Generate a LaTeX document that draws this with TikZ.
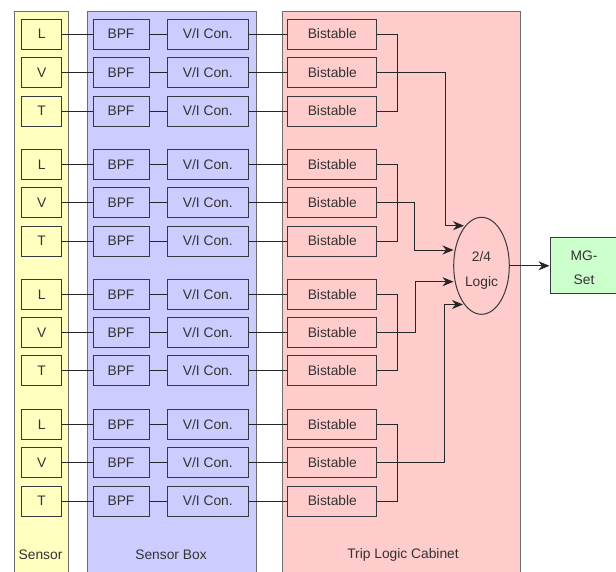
\documentclass[tikz,border=0pt]{standalone}
\usepackage{fontspec}
\setmainfont{Liberation Sans}
\usetikzlibrary{arrows.meta,shapes.geometric}
\definecolor{ylw}{HTML}{FFFFC0}
\definecolor{blu}{HTML}{CCCCFF}
\definecolor{pnk}{HTML}{FFCCCC}
\definecolor{grn}{HTML}{CCFFCC}
\definecolor{bord}{HTML}{36393D}
\definecolor{txt}{HTML}{333333}
\definecolor{cont}{HTML}{6E6E6E}
\begin{document}
\begin{tikzpicture}[x=1pt,y=-1pt,
  lbl/.style={text=txt,font=\fontsize{13.8}{15}\selectfont,inner sep=0pt},
  box/.style={lbl,draw=bord,line width=1pt,minimum height=30pt},
  sbox/.style={box,fill=ylw,minimum width=40pt},
  bpfbox/.style={box,fill=blu,minimum width=56pt},
  vibox/.style={box,fill=blu,minimum width=81pt},
  bisbox/.style={box,fill=pnk,minimum width=89pt},
  contbox/.style={draw=cont,line width=1pt,anchor=north west,minimum height=575pt,inner sep=0pt},
  wire/.style={draw=black!85,line width=1pt},
  arr/.style={wire,-{Stealth[length=11pt,width=9pt,inset=3.5pt]}}
]
\useasboundingbox (0,0) rectangle (616,571);
% containers
\node[contbox,fill=ylw,minimum width=54pt] (sensor) at (13.5,10.5) {};
\node[contbox,fill=blu,minimum width=169.5pt] (sbx) at (86.5,10.5) {};
\node[contbox,fill=pnk,minimum width=237.5pt] (tlc) at (282,10.5) {};
\node[lbl] (sensorlbl) at (40.5,555) {Sensor};
\node[lbl] (sbxlbl) at (171,555) {Sensor Box};
\node[lbl] (tlclbl) at (403,555) {Trip Logic Cabinet};
% rows
\foreach \y/\lab [count=\i] in {34/L,72.5/V,111/T,164.5/L,202.5/V,241/T,294.5/L,332.5/V,370.5/T,424.5/L,462.5/V,501/T}{
  \node[sbox] (s\i) at (41.7,\y) {\lab};
  \node[bpfbox] (b\i) at (121,\y) {BPF};
  \node[vibox] (v\i) at (207.8,\y) {V/I Con.};
  \node[bisbox] (t\i) at (332.3,\y) {Bistable};
  \draw[wire] (s\i) -- (b\i);
  \draw[wire] (b\i) -- (v\i);
  \draw[wire] (v\i) -- (t\i);
}
% logic
\node[ellipse,draw=bord,line width=1pt,minimum width=55.6pt,minimum height=97pt,inner sep=0pt] (logic) at (481.5,265.8) {};
\node[lbl,align=center,font=\fontsize{13.8}{25}\selectfont] (logictxt) at (481.5,270.5) {2/4\\Logic};
\node[box,fill=grn,minimum width=66pt,minimum height=55.5pt,align=center,
  font=\fontsize{13.8}{24}\selectfont] (mg) at (583,265.5) {};
\node[lbl,align=center,font=\fontsize{13.8}{24}\selectfont] (mgtxt) at (584,267.5) {MG-\\Set};
% brackets
\foreach \a/\c in {1/3,4/6,7/9,10/12}{
  \draw[wire] (t\a.east) -- ++(20,0) |- (t\c.east);
}
% arrows into logic
\coordinate (e1) at (464,225.7);
\coordinate (e2) at (453.5,250);
\coordinate (e3) at (453.5,281.7);
\coordinate (e4) at (463,304.5);
\draw[arr] (t2.east) -| (445,225.7) -- (e1);
\draw[arr] (t5.east) -| (414.5,250) -- (e2);
\draw[arr] (t8.east) -| (415.5,281.7) -- (e3);
\draw[arr] (t11.east) -| (444.5,304.5) -- (e4);
\draw[arr] (logic.east) -- (logic.east -| mg.west);
\end{tikzpicture}
\end{document}
